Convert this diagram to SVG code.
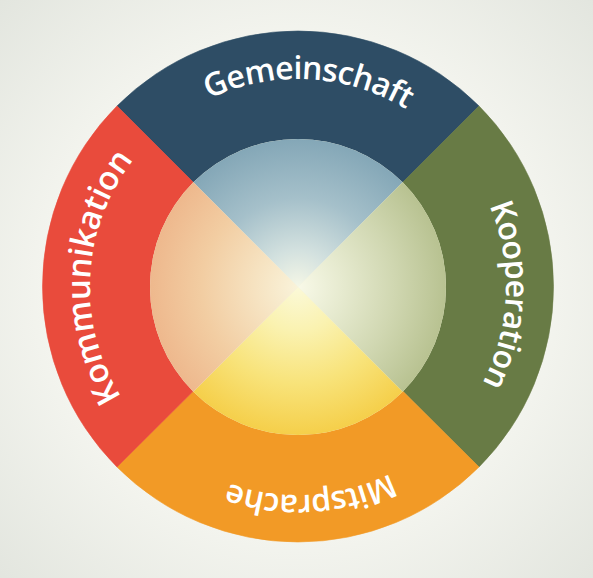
<svg xmlns="http://www.w3.org/2000/svg" width="593" height="578" viewBox="0 0 593 578">
  <defs>
    <radialGradient id="bg" cx="296" cy="289" r="420" gradientUnits="userSpaceOnUse">
      <stop offset="0" stop-color="#f6f7f1"/>
      <stop offset="0.6" stop-color="#f3f4ee"/>
      <stop offset="1" stop-color="#e2e5de"/>
    </radialGradient>
    <radialGradient id="gTop" cx="298" cy="287" r="148" gradientUnits="userSpaceOnUse">
      <stop offset="0" stop-color="#f5f7e6"/>
      <stop offset="0.25" stop-color="#d3e1df"/>
      <stop offset="0.6" stop-color="#a5c0ca"/>
      <stop offset="1" stop-color="#84a7b7"/>
    </radialGradient>
    <radialGradient id="gRight" cx="298" cy="287" r="148" gradientUnits="userSpaceOnUse">
      <stop offset="0" stop-color="#f8f9e8"/>
      <stop offset="0.3" stop-color="#e6eacf"/>
      <stop offset="0.65" stop-color="#d0d7b1"/>
      <stop offset="1" stop-color="#b8c291"/>
    </radialGradient>
    <radialGradient id="gBottom" cx="298" cy="287" r="148" gradientUnits="userSpaceOnUse">
      <stop offset="0" stop-color="#fbf9d8"/>
      <stop offset="0.3" stop-color="#faf2b0"/>
      <stop offset="0.65" stop-color="#f8e37a"/>
      <stop offset="1" stop-color="#f5cf4a"/>
    </radialGradient>
    <radialGradient id="gLeft" cx="298" cy="287" r="148" gradientUnits="userSpaceOnUse">
      <stop offset="0" stop-color="#f9f3da"/>
      <stop offset="0.3" stop-color="#f6e2c0"/>
      <stop offset="0.65" stop-color="#f2cda2"/>
      <stop offset="1" stop-color="#eeb88d"/>
    </radialGradient>
    <path id="ring" d="M 150.92,139.92 A 208 208 0 1 1 445.08,434.08 A 208 208 0 1 1 150.92,139.92"/>
  </defs>
  <style>
    .label { fill: #ffffff; font-family: "Open Sans", "Liberation Sans", sans-serif; font-weight: 600; font-size: 32px; letter-spacing: -0.8px; }
    .big { font-size: 33px; letter-spacing: -0.3px; }
    .top { fill: #2e4d65; stroke: #2e4d65; stroke-width: 0.6; }
    .right { fill: #687b45; stroke: #687b45; stroke-width: 0.6; }
    .bottom { fill: #f29a26; stroke: #f29a26; stroke-width: 0.6; }
    .left { fill: #e94b3c; stroke: #e94b3c; stroke-width: 0.6; }
  </style>

  <rect x="0" y="0" width="593" height="578" fill="url(#bg)"/>

  <g id="outer-ring">
    <path class="top" d="M 298,287 L 116.98,105.98 A 256 256 0 0 1 479.02,105.98 Z"/>
    <path class="right" d="M 298,287 L 479.02,105.98 A 256 256 0 0 1 479.02,467.02 Z"/>
    <path class="bottom" d="M 298,287 L 479.02,467.02 A 256 256 0 0 1 116.98,467.02 Z"/>
    <path class="left" d="M 298,287 L 116.98,467.02 A 256 256 0 0 1 116.98,105.98 Z"/>
    <circle cx="298" cy="287" r="148" fill="#f2f1dc"/>
  </g>

  <g id="gemeinschaft">
    <path fill="url(#gTop)" d="M 298,287 L 193.35,182.35 A 148 148 0 0 1 402.65,182.35 Z"/>
    <text class="label"><textPath href="#ring" startOffset="13.3%" text-anchor="middle">Gemeinschaft</textPath></text>
  </g>

  <g id="kooperation">
    <path fill="url(#gRight)" d="M 298,287 L 402.65,182.35 A 148 148 0 0 1 402.65,391.65 Z"/>
    <text class="label"><textPath href="#ring" startOffset="38.1%" text-anchor="middle">Kooperation</textPath></text>
  </g>

  <g id="mitsprache">
    <path fill="url(#gBottom)" d="M 298,287 L 402.65,391.65 A 148 148 0 0 1 193.35,391.65 Z"/>
    <text class="label"><textPath href="#ring" startOffset="61.5%" text-anchor="middle">Mitsprache</textPath></text>
  </g>

  <g id="kommunikation">
    <path fill="url(#gLeft)" d="M 298,287 L 193.35,391.65 A 148 148 0 0 1 193.35,182.35 Z"/>
    <text class="label big"><textPath href="#ring" startOffset="88.3%" text-anchor="middle">Kommunikation</textPath></text>
  </g>

  <g id="connectors"></g>
</svg>
